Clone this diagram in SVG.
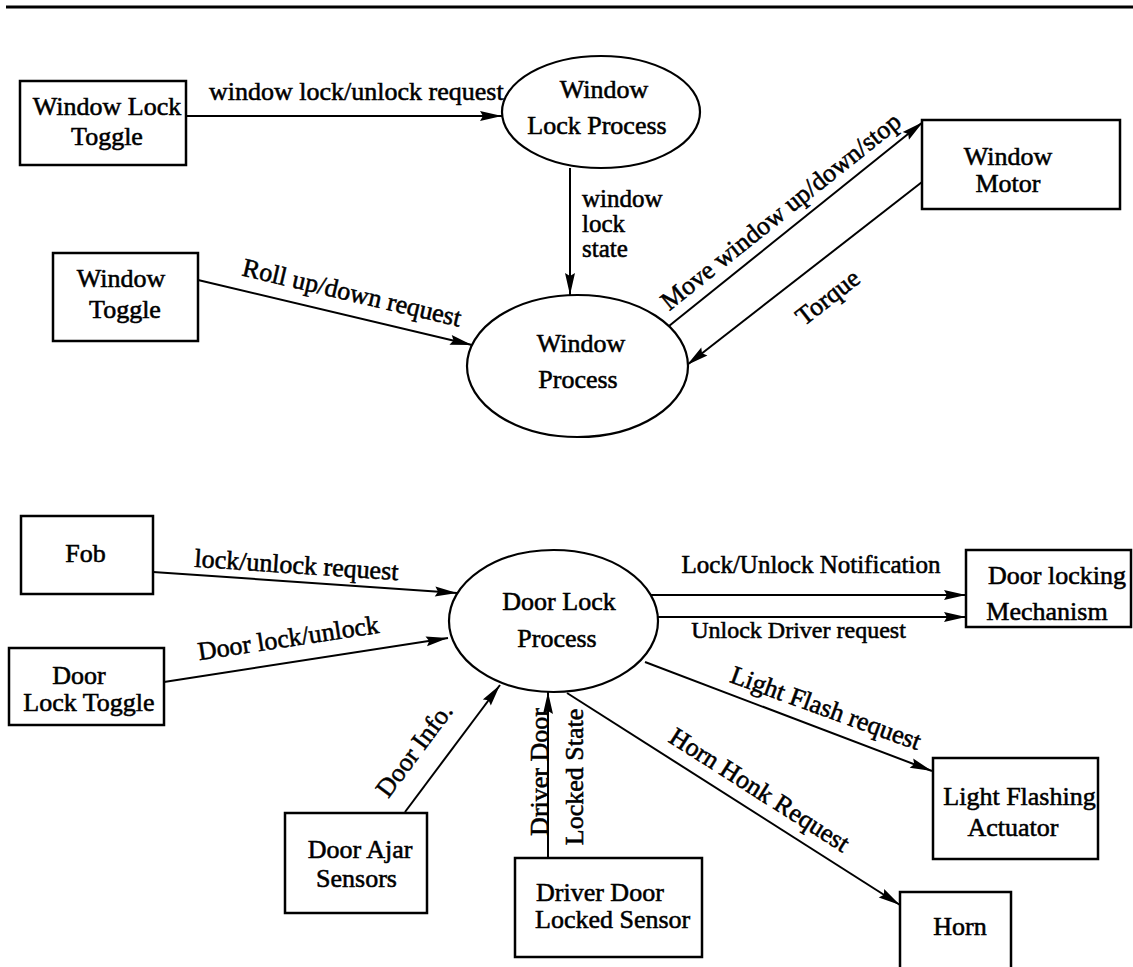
<svg xmlns="http://www.w3.org/2000/svg" width="1133" height="967" viewBox="0 0 1133 967">
  <defs>
    <marker id="arrow" markerUnits="userSpaceOnUse" markerWidth="22" markerHeight="10" refX="22" refY="5" orient="auto" overflow="visible">
      <path d="M0,0 L22,5 L0,10 L3,5 z" fill="#000"/>
    </marker>
  </defs>
  <style>
    .box{fill:#fff;stroke:#000;stroke-width:2.5}
    .proc{fill:#fff;stroke:#000;stroke-width:2.2}
    .flow{fill:none;stroke:#000;stroke-width:2;marker-end:url(#arrow)}
    text{font-family:"Liberation Serif","Times New Roman",serif;font-size:26px;fill:#000;stroke:#000;stroke-width:0.55}
    .c{text-anchor:middle}
  </style>
  <rect width="1133" height="967" fill="#fff"/>
  <line x1="6" y1="7" x2="1133" y2="7" stroke="#000" stroke-width="3"/>

  <!-- data flows -->
  <g id="connectors">
    <path class="flow" d="M186,116 L502,116"/>
    <text x="209" y="100">window lock/unlock request</text>

    <path class="flow" d="M570,168 L570,295"/>
    <text x="582" y="207" style="font-size:25px">window</text>
    <text x="582" y="232" style="font-size:25px">lock</text>
    <text x="582" y="257" style="font-size:25px">state</text>

    <path class="flow" d="M198,280 L472,345"/>
    <text class="c" transform="translate(350,301) rotate(13.3)">Roll up/down request</text>

    <path class="flow" d="M669,326 L923,122"/>
    <text class="c" transform="translate(786,218) rotate(-38.6)">Move window up/down/stop</text>

    <path class="flow" d="M922,182 L687,365"/>
    <text class="c" transform="translate(833,304) rotate(-37.9)">Torque</text>

    <path class="flow" d="M153,572 L457,593"/>
    <text class="c" transform="translate(296,573.5) rotate(3.8)">lock/unlock request</text>

    <path class="flow" d="M164,682 L448,638"/>
    <text class="c" transform="translate(289.5,646.5) rotate(-8.7)">Door lock/unlock</text>

    <path class="flow" d="M651,595 L966,595"/>
    <text class="c" x="811" y="573" style="font-size:25px">Lock/Unlock Notification</text>

    <path class="flow" d="M657,617 L966,617"/>
    <text class="c" x="798.5" y="638" style="font-size:24px">Unlock Driver request</text>

    <path class="flow" d="M645,662 L932,771"/>
    <text class="c" transform="translate(823,716) rotate(20)">Light Flash request</text>

    <path class="flow" d="M567,693 L900,905"/>
    <text class="c" transform="translate(755,797) rotate(32.5)">Horn Honk Request</text>

    <path class="flow" d="M405,812 L500,685"/>
    <text class="c" transform="translate(421,755) rotate(-53.2)">Door Info.</text>

    <path class="flow" d="M548,858 L548,692"/>
    <text class="c" transform="translate(548,772) rotate(-90)">Driver Door</text>
    <text class="c" transform="translate(583,777) rotate(-90)">Locked State</text>
  </g>

  <!-- window subsystem -->
  <g id="window-lock-toggle">
    <rect class="box" x="20" y="81" width="166" height="84"/>
    <text class="c" x="107" y="115">Window Lock</text>
    <text class="c" x="107" y="145">Toggle</text>
  </g>
  <g id="window-lock-process">
    <ellipse class="proc" cx="601" cy="112" rx="99" ry="56"/>
    <text class="c" x="604" y="98">Window</text>
    <text class="c" x="597" y="134">Lock Process</text>
  </g>
  <g id="window-toggle">
    <rect class="box" x="53" y="253" width="145" height="88"/>
    <text class="c" x="121" y="287">Window</text>
    <text class="c" x="125" y="318">Toggle</text>
  </g>
  <g id="window-process">
    <ellipse class="proc" cx="577.5" cy="366" rx="110.5" ry="71"/>
    <text class="c" x="581" y="352">Window</text>
    <text class="c" x="578" y="388">Process</text>
  </g>
  <g id="window-motor">
    <rect class="box" x="922" y="120" width="198" height="89"/>
    <text class="c" x="1008" y="165">Window</text>
    <text class="c" x="1008" y="192">Motor</text>
  </g>

  <!-- door lock subsystem -->
  <g id="fob">
    <rect class="box" x="21" y="516" width="132" height="78"/>
    <text class="c" x="85.5" y="562">Fob</text>
  </g>
  <g id="door-lock-toggle">
    <rect class="box" x="9" y="648" width="155" height="77"/>
    <text class="c" x="79" y="684">Door</text>
    <text class="c" x="89" y="711">Lock Toggle</text>
  </g>
  <g id="door-lock-process">
    <ellipse class="proc" cx="553.5" cy="621" rx="104.5" ry="71"/>
    <text class="c" x="559" y="610">Door Lock</text>
    <text class="c" x="557" y="647">Process</text>
  </g>
  <g id="door-locking-mechanism">
    <rect class="box" x="966" y="550" width="165" height="77"/>
    <text class="c" x="1057" y="584">Door locking</text>
    <text class="c" x="1047" y="620">Mechanism</text>
  </g>
  <g id="light-flashing-actuator">
    <rect class="box" x="933" y="758" width="165" height="101"/>
    <text class="c" x="1019.5" y="805">Light Flashing</text>
    <text class="c" x="1013" y="836">Actuator</text>
  </g>
  <g id="horn">
    <rect class="box" x="900" y="892" width="111" height="90"/>
    <text class="c" x="960" y="935">Horn</text>
  </g>
  <g id="door-ajar-sensors">
    <rect class="box" x="285" y="813" width="142" height="100"/>
    <text class="c" x="360" y="858">Door Ajar</text>
    <text class="c" x="356.5" y="887">Sensors</text>
  </g>
  <g id="driver-door-locked-sensor">
    <rect class="box" x="515" y="858" width="187" height="99"/>
    <text x="536" y="901">Driver Door</text>
    <text x="535" y="928">Locked Sensor</text>
  </g>
</svg>
